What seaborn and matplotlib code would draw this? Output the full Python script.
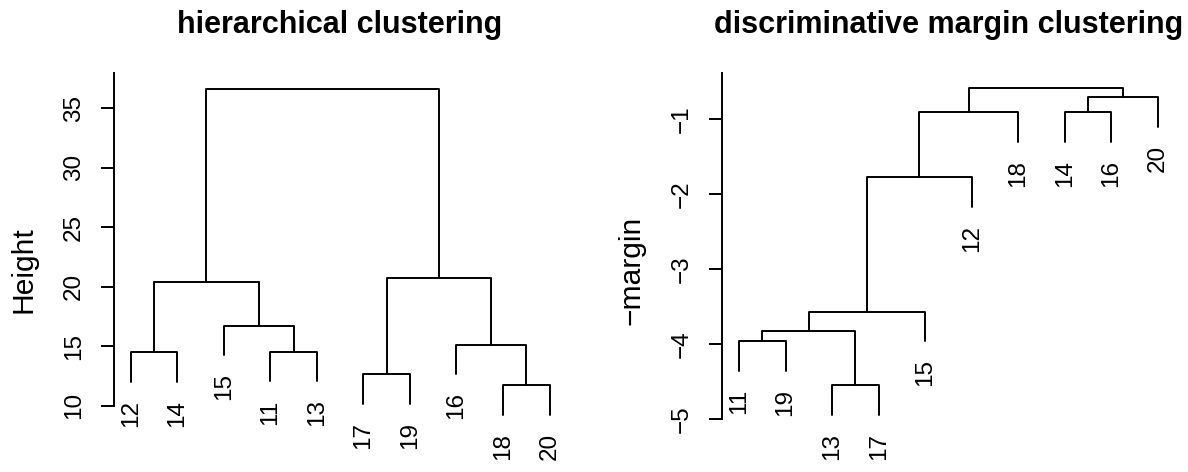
import numpy as np
import pandas as pd
import matplotlib.pyplot as plt
import seaborn as sns

# --- data: leaf order (left to right), merge steps, merge heights ---
# a string in a merge is a leaf label, an int refers to an earlier merge step (1-based)
hc_leaves = ["12", "14", "15", "11", "13", "17", "19", "16", "18", "20"]
hc_merge = [("18", "20"), ("17", "19"), ("12", "14"), ("11", "13"), ("16", 1),
            ("15", 4), (3, 6), (2, 5), (7, 8)]
hc_height = [11.70, 12.65, 14.48, 14.53, 15.12, 16.72, 20.42, 20.71, 36.64]
hc_ticks = [10, 15, 20, 25, 30, 35]

dm_leaves = ["11", "19", "13", "17", "15", "12", "18", "14", "16", "20"]
dm_merge = [("13", "17"), ("11", "19"), (2, 1), (3, "15"), (4, "12"),
            ("14", "16"), (5, "18"), (6, "20"), (7, 8)]
dm_height = [-4.546, -3.960, -3.819, -3.566, -1.776, -0.911, -0.908, -0.711, -0.591]
dm_ticks = [-5, -4, -3, -2, -1]

sns.set_theme(style="white", rc={"text.color": "black", "axes.labelcolor": "black",
                                 "ytick.color": "black", "xtick.color": "black"})
plt.rcParams['font.family'] = ['Liberation Sans', 'DejaVu Sans']

LW = 1.4
FS = 17.5
FS_BIG = 21.6


def dendro_segments(leaves, merge, height):
    # build the U-shaped links like R's plot.hclust (hang = 0.1)
    pos = {lab: i + 1 for i, lab in enumerate(leaves)}
    hang = 0.1 * (max(height) - min(height))
    node_x, rows, tips = {}, [], []
    for k, ((a, b), h) in enumerate(zip(merge, height), start=1):
        ends = []
        for c in (a, b):
            if isinstance(c, str):
                x, y0 = pos[c], h - hang
                tips.append((c, x, y0))
            else:
                x, y0 = node_x[c], height[c - 1]
            ends.append((x, y0))
        (xa, ya), (xb, yb) = ends
        node_x[k] = (xa + xb) / 2
        for x, y in [(xa, ya), (xa, h), (xb, h), (xb, yb)]:
            rows.append({"seg": k, "x": x, "y": y})
    return pd.DataFrame(rows), tips


def draw(ax, leaves, merge, height, ticks, ylim, title, ylabel):
    seg, tips = dendro_segments(leaves, merge, height)
    sns.lineplot(data=seg, x="x", y="y", units="seg", estimator=None, sort=False,
                 color="black", linewidth=LW, ax=ax, legend=False)
    for lab, x, y in tips:
        ax.annotate(lab, (x, y), xytext=(0, -13), textcoords="offset points",
                    rotation=90, ha="center", va="top", fontsize=FS,
                    color="black", annotation_clip=False)

    ax.set_xlim(0.64, len(leaves) + 0.36)
    ax.set_ylim(*ylim)
    ax.set_xticks([])
    ax.set_yticks(ticks)
    ax.set_xlabel("")
    ax.set_ylabel("")
    ax.tick_params(axis="y", left=True, length=9.4, width=LW, pad=11.5,
                   labelsize=FS, labelrotation=90, color="black", labelcolor="black")
    for lbl in ax.get_yticklabels():
        lbl.set_va("center")
    for s in ["top", "right", "bottom"]:
        ax.spines[s].set_visible(False)
    ax.spines["left"].set_color("black")
    ax.spines["left"].set_linewidth(LW)
    ax.spines["left"].set_bounds(ticks[0], ylim[1])

    ax.set_title(title, fontsize=22, fontweight="bold", pad=28.8, color="black")
    ax.text(-0.2, 0.5, ylabel, rotation=90, ha="center", va="center",
            fontsize=FS_BIG, color="black", transform=ax.transAxes)


fig = plt.figure(figsize=(11.88, 4.72), dpi=100)
ax1 = fig.add_axes([0.0959, 0.0112, 0.3808, 0.8335])
ax2 = fig.add_axes([0.608, 0.0112, 0.3808, 0.8335])

draw(ax1, hc_leaves, hc_merge, hc_height, hc_ticks, (4.85, 37.96),
     "hierarchical clustering", "Height")
draw(ax2, dm_leaves, dm_merge, dm_height, dm_ticks, (-5.63, -0.391),
     "discriminative margin clustering", "\u2212margin")

fig.savefig("out.png", dpi=100)
